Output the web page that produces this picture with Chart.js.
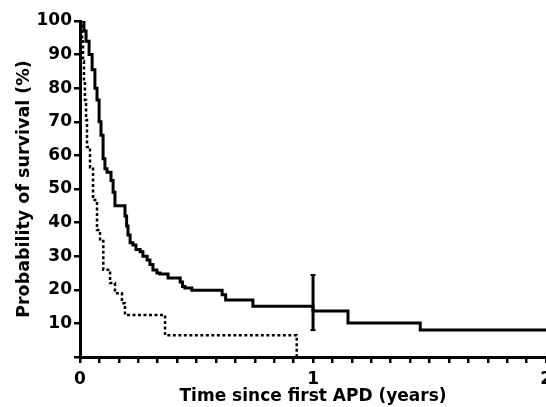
<!DOCTYPE html>
<html>
<head>
<meta charset="utf-8">
<script src="https://cdn.jsdelivr.net/npm/chart.js@4/dist/chart.umd.min.js"></script>
<style>
html,body{margin:0;padding:0;background:#fff;overflow:hidden;}
#wrap{width:558px;height:407px;}
</style>
</head>
<body>
<div id="wrap"><canvas id="c" width="558" height="407"></canvas></div>
<script>
// survival curves, time in years, survival in %
const solidTimes=[0,0.017,0.026,0.039,0.052,0.064,0.073,0.082,0.09,0.099,0.107,0.116,0.133,0.142,0.15,0.193,0.2,0.206,0.215,0.227,0.24,0.258,0.27,0.288,0.3,0.313,0.33,0.343,0.378,0.43,0.44,0.45,0.48,0.61,0.625,0.742,1.0,1.15,1.46,2.0];
const solidSurv=[100,97,94,90,85.5,80,76.5,70,66,59,56,55,52.5,49,45,42,39,36.3,34,33.3,32,31.3,30,28.9,27.5,25.9,25,24.7,23.5,22.3,21,20.5,19.9,18.5,17,15.1,13.7,10.1,8,8];
const dashTimes=[0,0.009,0.013,0.017,0.021,0.026,0.03,0.043,0.056,0.073,0.086,0.1,0.129,0.15,0.18,0.193,0.365,0.93];
const dashSurv=[100,94,88,82,76.5,70.5,62.5,56.5,46.7,37.8,34.5,26,22,19,16,12.5,6.5,0];
const ciTime=1;
const ciRange=[8,24.4];

const F="'DejaVu Sans'";
const pts=(ts,vs)=>ts.map((t,i)=>({x:t,y:vs[i]}));

new Chart(document.getElementById('c'),{
  type:'line',
  data:{
    datasets:[
      {
        data:pts(solidTimes,solidSurv),
        borderColor:'#000',
        borderWidth:3,
        stepped:'before',
        pointRadius:0
      },
      {
        data:pts(dashTimes,dashSurv),
        borderColor:'#000',
        borderWidth:2.5,
        borderDash:[3,2.5],
        stepped:'before',
        pointRadius:0
      },
      {
        data:ciRange.map(v=>({x:ciTime,y:v})),
        borderColor:'#000',
        borderWidth:3,
        pointStyle:'line',
        pointRadius:2.5,
        pointBorderWidth:2,
        pointBorderColor:'#000'
      }
    ]
  },
  options:{
    responsive:false,
    animation:false,
    layout:{padding:{top:21,right:0,left:0,bottom:0}},
    plugins:{legend:{display:false},tooltip:{enabled:false}},
    scales:{
      x:{
        type:'linear',
        min:0,
        max:2,
        border:{display:true,color:'#000',width:3},
        grid:{drawOnChartArea:false,color:'#000',lineWidth:2.5,tickLength:6},
        ticks:{
          stepSize:1/12,
          autoSkip:false,
          maxRotation:0,
          padding:6,
          color:'#000',
          font:{family:F,size:17,weight:'bold'},
          callback:v=>{const r=Math.round(v);return Math.abs(v-r)<1e-6?String(r):'';}
        },
        title:{
          display:true,
          text:'Time since first APD (years)',
          color:'#000',
          font:{family:F,size:17,weight:'bold'},
          padding:{top:1,bottom:0}
        },
        afterFit:s=>{s.height=50;}
      },
      y:{
        min:0,
        max:100,
        border:{display:true,color:'#000',width:3},
        grid:{drawOnChartArea:false,color:'#000',lineWidth:2.5,tickLength:6},
        ticks:{
          stepSize:10,
          padding:2,
          color:'#000',
          font:{family:F,size:17,weight:'bold'},
          callback:v=>v===0?'':v
        },
        title:{
          display:true,
          text:'Probability of survival (%)',
          color:'#000',
          font:{family:F,size:17.5,weight:'bold'},
          padding:{top:14,bottom:0}
        },
        afterFit:s=>{s.width=80;}
      }
    }
  }
});
</script>
</body>
</html>
